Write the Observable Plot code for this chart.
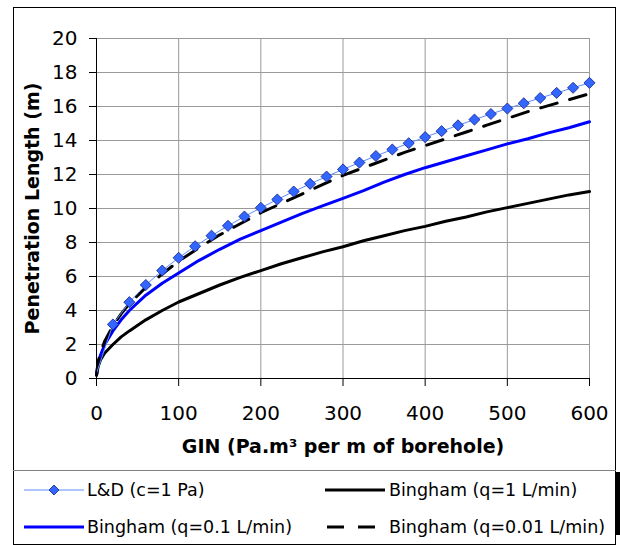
<!DOCTYPE html>
<html><head><meta charset="utf-8">
<script src="https://cdn.jsdelivr.net/npm/d3@7"></script>
<script src="https://cdn.jsdelivr.net/npm/@observablehq/plot@0.6"></script>
<style>
body{margin:0;background:#fff;}
#wrap{position:relative;width:620px;height:545px;overflow:hidden;font-family:"DejaVu Sans";}
#chart{position:absolute;left:0;top:0;}
#frame{position:absolute;left:13px;top:7px;width:603px;height:538px;border:1px solid #000;box-sizing:border-box;}
#legtop{position:absolute;left:13px;top:470px;width:603px;height:1px;background:#808080;}
#shadow{position:absolute;left:616px;top:472px;width:4px;height:63px;background:#000;}
.sw{position:absolute;}
.lt{position:absolute;font-size:17.5px;line-height:24px;white-space:nowrap;color:#000;}
</style>
</head><body>
<div id="wrap">
  <div id="chart"></div>
  <div id="frame"></div>
  <div id="legtop"></div>
  <div id="shadow"></div>
  <div id="legend"></div>
</div>
<script>
// ---- data ----
const xTicks = [0, 100, 200, 300, 400, 500, 600];
const yTicks = [0, 2, 4, 6, 8, 10, 12, 14, 16, 18, 20];

const ldX = [0, 20, 40, 60, 80, 100, 120, 140, 160, 180, 200, 220, 240, 260, 280, 300, 320, 340, 360, 380, 400, 420, 440, 460, 480, 500, 520, 540, 560, 580, 600];
const ldY = [0.3, 3.18, 4.49, 5.5, 6.35, 7.1, 7.78, 8.4, 8.98, 9.53, 10.04, 10.53, 11.0, 11.45, 11.88, 12.3, 12.7, 13.09, 13.47, 13.84, 14.2, 14.55, 14.89, 15.23, 15.56, 15.88, 16.19, 16.5, 16.8, 17.1, 17.39];

const bX = [0, 2, 5, 10, 20, 30, 40, 60, 80, 100, 125, 150, 175, 200, 225, 250, 275, 300, 325, 350, 375, 400, 425, 450, 475, 500, 525, 550, 575, 600];
const bq1 = [0.2, 0.7, 1.1, 1.5, 2.0, 2.45, 2.8, 3.45, 4.0, 4.5, 5.0, 5.5, 5.95, 6.35, 6.75, 7.1, 7.45, 7.75, 8.1, 8.4, 8.7, 8.95, 9.25, 9.5, 9.8, 10.05, 10.3, 10.55, 10.8, 11.0];
const bq01 = [0.2, 0.9, 1.4, 2.0, 2.8, 3.45, 4.0, 4.9, 5.6, 6.2, 6.95, 7.6, 8.2, 8.7, 9.2, 9.7, 10.15, 10.6, 11.05, 11.55, 12.0, 12.4, 12.75, 13.1, 13.45, 13.8, 14.1, 14.45, 14.75, 15.1];
const bq001 = [0.2, 1.0, 1.55, 2.2, 3.1, 3.8, 4.4, 5.35, 6.15, 6.9, 7.7, 8.45, 9.1, 9.75, 10.3, 10.85, 11.4, 11.95, 12.4, 12.85, 13.3, 13.7, 14.1, 14.5, 14.9, 15.3, 15.7, 16.05, 16.4, 16.75];

const seriesNames = ["L&D (c=1 Pa)", "Bingham (q=1 L/min)", "Bingham (q=0.1 L/min)", "Bingham (q=0.01 L/min)"];
const xLabel = "GIN (Pa.m³ per m of borehole)";
const yLabel = "Penetration Length (m)";

// ---- tables ----
const ld = ldX.map((x, i) => ({x, y: ldY[i]}));
const q1 = bX.map((x, i) => ({x, y: bq1[i]}));
const q01 = bX.map((x, i) => ({x, y: bq01[i]}));
const q001 = bX.map((x, i) => ({x, y: bq001[i]}));

const LDLINE = "#5b8cff", LDFILL = "#3366ff", LDSTROKE = "#10208a";

const chart = Plot.plot({
  width: 620,
  height: 470,
  marginLeft: 96,
  marginRight: 31,
  marginTop: 38,
  marginBottom: 92,
  style: {fontFamily: "DejaVu Sans", fontSize: "19.5px", background: "transparent", overflow: "visible"},
  x: {domain: [0, 600]},
  y: {domain: [0, 20]},
  marks: [
    Plot.gridX(xTicks.slice(1), {stroke: "#9a9a9a", strokeOpacity: 1}),
    Plot.gridY(yTicks.slice(1), {stroke: "#9a9a9a", strokeOpacity: 1}),
    Plot.axisX({ticks: xTicks, tickSize: 8, tickPadding: 19, label: null, fontSize: "20px", stroke: "#000"}),
    Plot.axisY({ticks: yTicks, tickSize: 7, tickPadding: 12, label: null, fontSize: "20px", stroke: "#000"}),
    Plot.line(q1, {x: "x", y: "y", stroke: "#000", strokeWidth: 3}),
    Plot.line(q01, {x: "x", y: "y", stroke: "#0000ff", strokeWidth: 3}),
    Plot.line(q001, {x: "x", y: "y", stroke: "#000", strokeWidth: 3, strokeDasharray: "17,13"}),
    Plot.line(ld, {x: "x", y: "y", stroke: LDLINE, strokeWidth: 1}),
    Plot.dot(ld.filter(d => d.x > 0), {x: "x", y: "y", symbol: "diamond2", r: 5, fill: LDFILL, stroke: LDSTROKE, strokeWidth: 0.8}),
    Plot.ruleX([0], {stroke: "#000"}),
    Plot.ruleY([0], {stroke: "#000"}),
    Plot.text([xLabel], {text: d => d, frameAnchor: "bottom", textAnchor: "middle", dy: 68, lineAnchor: "middle", fontSize: 19, fontWeight: "bold"}),
    Plot.text([yLabel], {text: d => d, frameAnchor: "left", textAnchor: "middle", dx: -64, rotate: -90, lineAnchor: "middle", fontSize: 19, fontWeight: "bold"})
  ]
});
document.getElementById("chart").append(chart);

// ---- legend (HTML) ----
const legend = document.getElementById("legend");
const items = [
  {name: seriesNames[0], sx: 24, tx: 87, cy: 489, kind: "ld"},
  {name: seriesNames[1], sx: 325, tx: 389, cy: 489, kind: "black"},
  {name: seriesNames[2], sx: 24, tx: 87, cy: 526, kind: "blue"},
  {name: seriesNames[3], sx: 325, tx: 389, cy: 526, kind: "dash"}
];
for (const it of items) {
  const w = 60;
  let inner = "";
  if (it.kind === "ld") {
    inner = `<line x1="0" y1="7" x2="${w}" y2="7" stroke="${LDLINE}" stroke-width="1"/>` +
            `<path d="M30,2 L35,7 L30,12 L25,7 Z" fill="${LDFILL}" stroke="${LDSTROKE}" stroke-width="0.8"/>`;
  } else if (it.kind === "black") {
    inner = `<line x1="0" y1="7" x2="${w}" y2="7" stroke="#000" stroke-width="3"/>`;
  } else if (it.kind === "blue") {
    inner = `<line x1="0" y1="7" x2="${w}" y2="7" stroke="#0000ff" stroke-width="3"/>`;
  } else {
    inner = `<line x1="2" y1="7" x2="${w}" y2="7" stroke="#000" stroke-width="3" stroke-dasharray="17,14"/>`;
  }
  const sw = document.createElement("div");
  sw.className = "sw";
  sw.style.left = it.sx + "px";
  sw.style.top = (it.cy - 7) + "px";
  sw.innerHTML = `<svg width="${w}" height="14">${inner}</svg>`;
  legend.append(sw);
  const t = document.createElement("div");
  t.className = "lt";
  t.style.left = it.tx + "px";
  t.style.top = (it.cy - 11) + "px";
  t.textContent = it.name;
  legend.append(t);
}
</script>
</body></html>
